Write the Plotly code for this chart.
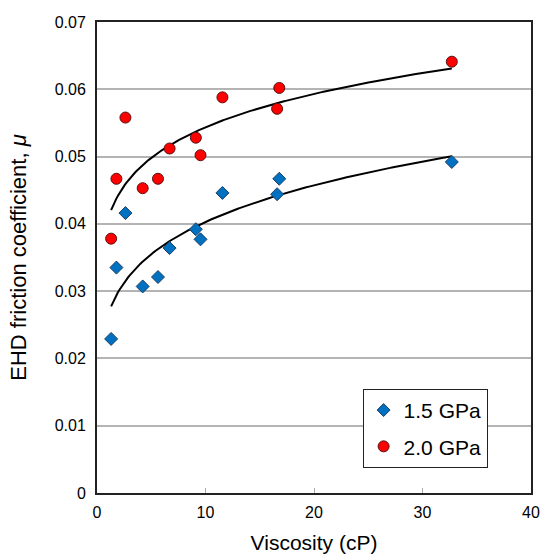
import numpy as np
import plotly.graph_objects as go

# Data
visc_15 = [1.3, 1.79, 2.62, 4.21, 5.62, 6.69, 9.11, 9.54, 11.56, 16.6, 16.8, 32.7]
mu_15 = [0.0229, 0.0335, 0.0416, 0.0307, 0.0321, 0.0364, 0.0392, 0.0377, 0.0446, 0.0444, 0.0467, 0.0492]

visc_20 = [1.3, 1.79, 2.62, 4.21, 5.62, 6.69, 9.11, 9.54, 11.56, 16.6, 16.8, 32.7]
mu_20 = [0.0378, 0.0467, 0.0558, 0.0453, 0.0467, 0.0512, 0.0528, 0.0502, 0.0588, 0.0571, 0.0602, 0.0641]

x_ticks = [0, 10, 20, 30, 40]
y_ticks = [0, 0.01, 0.02, 0.03, 0.04, 0.05, 0.06, 0.07]
y_tick_text = ["0", "0.01", "0.02", "0.03", "0.04", "0.05", "0.06", "0.07"]

FONT = "Liberation Sans, Arial, sans-serif"


def power_trend(xs, ys):
    # power-law trendline y = a * x^b, fitted in log-log space
    b, ln_a = np.polyfit(np.log(xs), np.log(ys), 1)
    xx = np.linspace(min(xs), max(xs), 200)
    return xx, np.exp(ln_a) * xx ** b


fig = go.Figure()

for xs, ys in [(visc_15, mu_15), (visc_20, mu_20)]:
    tx, ty = power_trend(xs, ys)
    fig.add_trace(go.Scatter(x=tx, y=ty, mode="lines", line=dict(color="black", width=2),
                             showlegend=False, hoverinfo="skip"))

fig.add_trace(go.Scatter(x=visc_15, y=mu_15, mode="markers", name="1.5 GPa", legendgroup="a",
                         marker=dict(symbol="diamond", size=10, color="#0070C0",
                                     line=dict(color="#1f3f66", width=1))))
fig.add_trace(go.Scatter(x=visc_20, y=mu_20, mode="markers", name="2.0 GPa", legendgroup="b",
                         marker=dict(symbol="circle", size=11, color="#FF0000",
                                     line=dict(color="#5a1010", width=1))))

fig.update_layout(
    width=544, height=554,
    margin=dict(l=96.5, r=12.5, t=22, b=61),
    plot_bgcolor="white", paper_bgcolor="white",
    font=dict(family=FONT, size=16, color="black"),
    legend=dict(x=0.612, y=0.221, xanchor="left", yanchor="top",
                bordercolor="#222222", borderwidth=1, bgcolor="white",
                font=dict(size=21, family=FONT), itemwidth=30, tracegroupgap=6),
    xaxis=dict(range=[0, 40], tickvals=x_ticks, showgrid=False, zeroline=False,
               showline=True, linecolor="#222222", linewidth=2, mirror=True,
               ticks="inside", ticklen=5, tickcolor="#aaaaaa", tickwidth=1,
               tickfont=dict(size=16), ticklabelstandoff=4, automargin=False,
               title=dict(text="Viscosity (cP)", font=dict(size=21), standoff=15)),
    yaxis=dict(range=[0, 0.07], tickvals=y_ticks, ticktext=y_tick_text,
               showgrid=True, gridcolor="#b4b4b4", gridwidth=1.5, zeroline=False,
               showline=True, linecolor="#222222", linewidth=2, mirror=True,
               ticks="", tickfont=dict(size=16), ticklabelstandoff=6, automargin=False,
               title=dict(text="EHD friction coefficient, <i>μ</i>", font=dict(size=22), standoff=22)),
)

fig.write_html("out.html")
